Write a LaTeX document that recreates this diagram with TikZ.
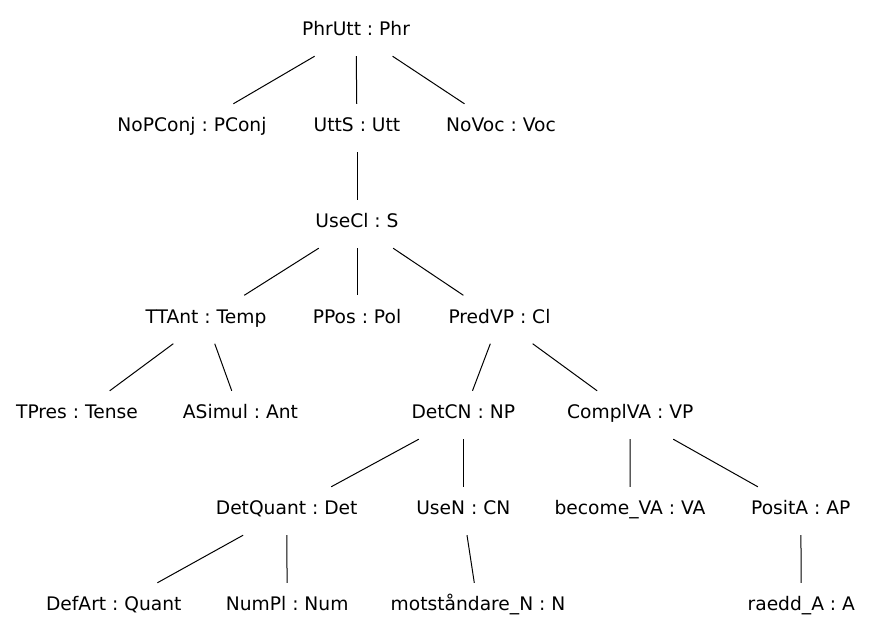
\documentclass[tikz,border=0pt]{standalone}
\usepackage{fontspec}
\setmainfont{DejaVu Sans}
\usetikzlibrary{positioning}

\begin{document}
\frenchspacing
\begin{tikzpicture}[
    x=1pt, y=-1pt,
    fun/.style={rectangle, inner xsep=4pt, minimum height=48pt,
                text height=0.73em, text depth=0pt, yshift=-3pt,
                font=\fontsize{18.67}{22}\selectfont},
    edge/.style={line width=1pt, black}
]
\useasboundingbox (0,0) rectangle (871,635);
% level 0
\node[fun] (phrutt) at (356,29) {PhrUtt : Phr};
% level 1
\node[fun] (nopconj) at (192,125) {NoPConj : PConj};
\node[fun] (utts) at (357,125) {UttS : Utt};
\node[fun] (novoc) at (501,125) {NoVoc : Voc};
% level 2
\node[fun] (usecl) at (357,221) {UseCl : S};
% level 3
\node[fun] (ttant) at (206,316.5) {TTAnt : Temp};
\node[fun] (ppos) at (357,316.5) {PPos : Pol};
\node[fun] (predvp) at (499.5,316.5) {PredVP : Cl};
% level 4
\node[fun] (tpres) at (77,412) {TPres : Tense};
\node[fun] (asimul) at (240.5,412) {ASimul : Ant};
\node[fun] (detcn) at (463.3,412) {DetCN : NP};
\node[fun] (complva) at (630.3,412) {ComplVA : VP};
% level 5
\node[fun] (detquant) at (286.7,508) {DetQuant : Det};
\node[fun] (usen) at (463.3,508) {UseN : CN};
\node[fun] (becomeva) at (630,508) {become\_VA : VA};
\node[fun] (posita) at (800.8,508) {PositA : AP};
% level 6
\node[fun] (defart) at (113.8,604) {DefArt : Quant};
\node[fun] (numpl) at (287.2,604) {NumPl : Num};
\node[fun] (motstandare) at (478,604) {motståndare\_N : N};
\node[fun] (raedda) at (801.3,604) {raedd\_A : A};
% edges
\draw[edge] (phrutt)--(nopconj); \draw[edge] (phrutt)--(utts); \draw[edge] (phrutt)--(novoc);
\draw[edge] (utts)--(usecl);
\draw[edge] (usecl)--(ttant); \draw[edge] (usecl)--(ppos); \draw[edge] (usecl)--(predvp);
\draw[edge] (ttant)--(tpres); \draw[edge] (ttant)--(asimul);
\draw[edge] (predvp)--(detcn); \draw[edge] (predvp)--(complva);
\draw[edge] (detcn)--(detquant); \draw[edge] (detcn)--(usen);
\draw[edge] (complva)--(becomeva); \draw[edge] (complva)--(posita);
\draw[edge] (detquant)--(defart); \draw[edge] (detquant)--(numpl);
\draw[edge] (usen)--(motstandare);
\draw[edge] (posita)--(raedda);
\end{tikzpicture}
\end{document}
